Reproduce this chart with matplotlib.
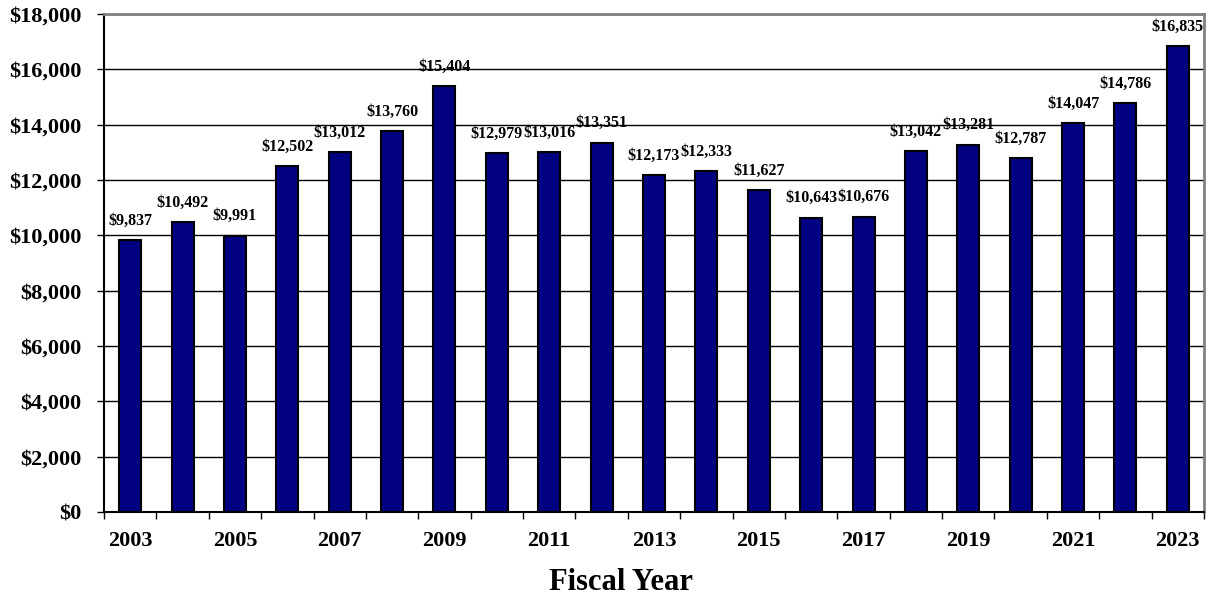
import numpy as np
import matplotlib.pyplot as plt
from matplotlib.ticker import FuncFormatter

years = list(range(2003, 2024))
values = [9837, 10492, 9991, 12502, 13012, 13760, 15404, 12979, 13016, 13351,
          12173, 12333, 11627, 10643, 10676, 13042, 13281, 12787, 14047, 14786, 16835]

plt.rcParams['font.family'] = ['Liberation Serif', 'DejaVu Serif']
plt.rcParams['font.weight'] = 'bold'

fig = plt.figure(figsize=(12.11, 6.0), dpi=100)
ax = fig.add_axes([104 / 1211, 1 - 512 / 600, (1204 - 104) / 1211, (512 - 14) / 600])

x = np.arange(len(years))
ax.bar(x, values, width=0.42, color='#000080', edgecolor='black', linewidth=1.5, zorder=3)

for xi, v in zip(x, values):
    ax.annotate(f'${v:,}', (xi, v), xytext=(0, 11), textcoords='offset points',
                ha='center', va='baseline', fontsize=11.5, fontweight='bold')

ax.set_xlim(-0.5, len(years) - 0.5)
ax.set_ylim(0, 18000)
ax.set_yticks(np.arange(0, 18001, 2000))
ax.yaxis.set_major_formatter(FuncFormatter(lambda v, p: f'${int(v):,}'))
ax.yaxis.grid(True, color='black', linewidth=1, zorder=0)

# category ticks sit between bars, labels on odd years
ax.set_xticks(np.arange(-0.5, len(years), 1.0))
ax.set_xticklabels([])
ax.set_xticks(x[::2], minor=True)
ax.set_xticklabels([str(y) for y in years[::2]], minor=True)
ax.tick_params(axis='x', which='minor', length=0, pad=14, labelsize=16)
ax.tick_params(axis='x', which='major', direction='out', length=5, width=1)
ax.tick_params(axis='y', direction='out', length=5, width=1, labelsize=16, pad=11)

for lab in ax.get_xticklabels(minor=True) + ax.get_yticklabels():
    lab.set_fontweight('bold')

ax.spines['left'].set_color('black')
ax.spines['left'].set_linewidth(1.5)
ax.spines['bottom'].set_color('black')
ax.spines['bottom'].set_linewidth(1.5)
ax.spines['top'].set_color('#808080')
ax.spines['top'].set_linewidth(2)
ax.spines['right'].set_color('#808080')
ax.spines['right'].set_linewidth(2)

ax.set_xlabel('Fiscal Year', fontsize=22, fontweight='bold')
ax.xaxis.set_label_coords(0.47, -0.112)

fig.savefig('out.png', dpi=100)
